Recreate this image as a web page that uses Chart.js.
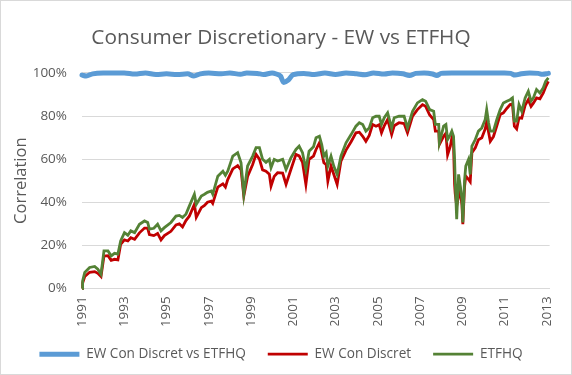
<!DOCTYPE html>
<html>
<head>
<meta charset="utf-8">
<script src="https://cdn.jsdelivr.net/npm/chart.js@4"></script>
<style>
  html, body { margin: 0; padding: 0; background: #fff; }
  #wrap { width: 572px; height: 375px; box-sizing: border-box; border: 1px solid #d9d9d9; }
  canvas { display: block; }
</style>
</head>
<body>
<div id="wrap"><canvas id="chart" width="570" height="373"></canvas></div>
<script>
const chartTitle = 'Consumer Discretionary - EW vs ETFHQ';
const seriesNames = ['EW Con Discret vs ETFHQ', 'EW Con Discret', 'ETFHQ'];

// x tick labels (years)
const xTicks = [1991, 1993, 1995, 1997, 1999, 2001, 2003, 2005, 2007, 2009, 2011, 2013];
const yTicks = [0, 20, 40, 60, 80, 100];

// price lines (percent)
const years = [
  1991.00, 1991.03, 1991.13, 1991.36, 1991.60, 1991.75, 1991.90, 1992.04, 1992.23, 1992.38,
  1992.54, 1992.70, 1992.83, 1993.01, 1993.17, 1993.31, 1993.49, 1993.72, 1993.96, 1994.11,
  1994.19, 1994.40, 1994.58, 1994.74, 1994.90, 1995.21, 1995.45, 1995.61, 1995.76, 1995.92,
  1996.08, 1996.32, 1996.41, 1996.65, 1996.80, 1996.94, 1997.12, 1997.19, 1997.43, 1997.67,
  1997.79, 1997.90, 1998.14, 1998.37, 1998.53, 1998.66, 1998.84, 1999.08, 1999.24, 1999.40,
  1999.55, 1999.71, 1999.87, 1999.95, 2000.10, 2000.26, 2000.50, 2000.66, 2000.89, 2001.13,
  2001.28, 2001.44, 2001.60, 2001.75, 2001.96, 2002.08, 2002.24, 2002.35, 2002.45, 2002.56,
  2002.64, 2002.79, 2002.92, 2003.08, 2003.26, 2003.50, 2003.74, 2003.97, 2004.13, 2004.29,
  2004.44, 2004.60, 2004.76, 2004.92, 2005.07, 2005.18, 2005.31, 2005.47, 2005.66, 2005.78,
  2006.01, 2006.25, 2006.41, 2006.65, 2006.88, 2007.12, 2007.27, 2007.46, 2007.65, 2007.73,
  2007.89, 2007.92, 2008.12, 2008.23, 2008.31, 2008.44, 2008.51, 2008.59, 2008.64, 2008.67,
  2008.74, 2008.83, 2008.91, 2008.99, 2009.03, 2009.11, 2009.17, 2009.30, 2009.38, 2009.46,
  2009.62, 2009.77, 2009.93, 2010.09, 2010.16, 2010.25, 2010.33, 2010.48, 2010.64, 2010.80,
  2010.95, 2011.11, 2011.27, 2011.38, 2011.47, 2011.58, 2011.69, 2011.82, 2011.98, 2012.13,
  2012.26, 2012.37, 2012.52, 2012.68, 2012.84, 2012.95, 2013.08
];
const etfhq = [
  0, 3.5, 7.4, 9.7, 10.2, 8.9, 6.6, 17.4, 17.4, 15.1,
  16.3, 15.9, 22.0, 25.9, 24.7, 26.7, 25.9, 29.8, 31.3, 30.6,
  27.5, 27.9, 29.8, 26.7, 28.2, 30.6, 33.6, 33.9, 32.9, 34.4,
  38.2, 43.7, 39.0, 42.9, 43.7, 44.6, 45.2, 43.7, 52.1, 54.4,
  52.5, 54.4, 61.4, 63.0, 58.3, 43.7, 56.8, 61.4, 65.3, 65.3,
  59.9, 58.5, 59.9, 56.0, 59.9, 59.1, 59.9, 55.2, 60.6, 64.5,
  66.0, 63.0, 55.2, 63.7, 65.7, 69.9, 70.6, 66.8, 61.4, 63.0,
  56.8, 61.4, 56.8, 52.9, 61.4, 67.6, 71.4, 75.3, 76.9, 76.1,
  73.0, 74.5, 79.2, 79.9, 79.9, 76.1, 79.2, 81.5, 74.5, 79.2,
  79.9, 79.9, 74.5, 82.2, 86.1, 87.6, 86.9, 83.0, 82.2, 76.1,
  76.1, 67.6, 75.3, 76.1, 69.1, 71.4, 73.0, 70.6, 59.9, 49.8,
  32.1, 52.9, 47.5, 41.3, 30.6, 49.8, 56.8, 59.9, 52.9, 66.0,
  69.1, 73.0, 74.5, 78.4, 83.0, 76.9, 73.0, 73.0, 78.4, 83.0,
  86.1, 86.9, 87.6, 88.4, 77.6, 77.6, 85.3, 82.2, 88.4, 91.5,
  86.9, 88.4, 92.3, 90.7, 93.1, 96.1, 97.7
];
const ewConDiscret = [
  0, 2.5, 5.5, 7.5, 7.8, 7.0, 5.5, 15.0, 15.2, 13.0,
  13.5, 13.2, 20.5, 22.5, 22.0, 23.5, 22.8, 25.8, 28.0, 28.0,
  25.0, 24.5, 25.5, 22.5, 24.5, 26.5, 29.5, 30.0, 28.5, 31.5,
  33.5, 39.0, 33.0, 37.5, 38.5, 40.0, 40.5, 39.5, 47.0, 48.5,
  47.0, 50.5, 55.5, 57.0, 55.0, 42.9, 52.0, 57.5, 62.2, 60.0,
  55.0, 54.4, 53.0, 47.5, 52.0, 53.7, 53.5, 48.3, 55.2, 62.2,
  61.5, 58.5, 48.3, 59.9, 61.4, 64.5, 67.6, 63.0, 58.3, 57.5,
  49.8, 56.8, 53.0, 48.3, 59.1, 64.2, 68.1, 72.2, 72.5, 70.6,
  68.3, 71.0, 76.1, 75.3, 76.0, 72.2, 75.5, 78.4, 71.4, 75.5,
  76.9, 76.5, 72.2, 80.0, 83.0, 85.3, 84.5, 80.5, 78.4, 73.0,
  73.0, 66.8, 70.6, 72.0, 62.0, 66.0, 69.9, 66.5, 48.3, 44.0,
  38.2, 42.9, 45.0, 38.5, 29.8, 47.0, 52.1, 50.6, 49.5, 63.0,
  65.3, 69.0, 69.9, 74.0, 77.5, 72.5, 68.3, 70.5, 75.5, 80.7,
  81.5, 83.5, 85.3, 85.5, 75.3, 74.0, 79.2, 79.0, 85.0, 87.6,
  84.5, 86.0, 88.4, 88.0, 90.7, 93.5, 96.1
];

// rolling correlation (percent)
const corrYears = [
  1991.00, 1991.20, 1991.50, 1992.00, 1993.00, 1993.50, 1994.00, 1994.50, 1995.00, 1995.50,
  1996.00, 1996.30, 1996.60, 1997.00, 1997.60, 1998.00, 1998.50, 1998.80, 1999.30, 1999.60,
  2000.00, 2000.20, 2000.40, 2000.55, 2000.75, 2001.00, 2001.50, 2002.00, 2002.50, 2003.00,
  2003.50, 2004.00, 2004.40, 2004.80, 2005.30, 2005.70, 2006.20, 2006.50, 2006.80, 2007.20,
  2007.60, 2007.80, 2008.00, 2008.50, 2009.00, 2010.00, 2011.00, 2011.30, 2011.50, 2011.80,
  2012.20, 2012.60, 2012.80, 2013.08
];
const corrValues = [
  99.0, 98.6, 99.6, 100, 100, 99.5, 100, 99.3, 99.6, 99.3,
  99.6, 98.6, 99.6, 100, 99.6, 100, 99.4, 100, 99.8, 99.3,
  100, 99.5, 98.5, 95.6, 96.6, 99.2, 99.8, 99.3, 100, 99.3,
  100, 99.6, 99.2, 100, 99.5, 100, 99.6, 98.8, 99.8, 100,
  99.5, 98.8, 99.8, 100, 100, 100, 100, 99.8, 99.0, 99.6,
  100, 99.8, 99.4, 99.8
];

const toPoints = (xs, ys) => xs.map((x, i) => ({ x: x, y: ys[i] }));

const fontFamily = '"Open Sans", "DejaVu Sans", sans-serif';
const textColor = '#595959';

new Chart(document.getElementById('chart'), {
  type: 'line',
  data: {
    datasets: [
      {
        label: seriesNames[0],
        data: toPoints(corrYears, corrValues),
        borderColor: '#5b9bd5',
        backgroundColor: '#5b9bd5',
        borderWidth: 5,
        borderCapStyle: 'round',
        borderJoinStyle: 'round',
        cubicInterpolationMode: 'monotone',
        pointRadius: 0,
        order: 2,
        clip: 10
      },
      {
        label: seriesNames[1],
        data: toPoints(years, ewConDiscret),
        borderColor: '#c00000',
        backgroundColor: '#c00000',
        borderWidth: 2.8,
        pointRadius: 0,
        order: 1,
        clip: 10
      },
      {
        label: seriesNames[2],
        data: toPoints(years, etfhq),
        borderColor: '#548235',
        backgroundColor: '#548235',
        borderWidth: 2.8,
        pointRadius: 0,
        order: 0,
        clip: 10
      }
    ]
  },
  options: {
    responsive: false,
    animation: false,
    layout: { padding: { left: 10, right: 20, top: 0, bottom: 3 } },
    plugins: {
      title: {
        display: true,
        text: chartTitle,
        color: textColor,
        font: { family: fontFamily, size: 20.8, weight: 'normal' },
        padding: { top: 25, bottom: 22 }
      },
      legend: {
        position: 'bottom',
        labels: {
          usePointStyle: true,
          pointStyle: 'line',
          pointStyleWidth: 40,
          padding: 22,
          color: textColor,
          font: { family: fontFamily, size: 13.6 },
          sort: (a, b) => a.datasetIndex - b.datasetIndex
        }
      },
      tooltip: { enabled: false }
    },
    scales: {
      x: {
        type: 'linear',
        min: 1991,
        max: 2013.14,
        afterBuildTicks: (scale) => { scale.ticks = xTicks.map(v => ({ value: v })); },
        afterFit: (scale) => { scale.height = 37; },
        grid: { display: false, drawTicks: false },
        border: { display: true, color: '#d9d9d9', width: 1 },
        ticks: {
          color: textColor,
          font: { family: fontFamily, size: 13.5 },
          padding: 8,
          minRotation: 90,
          maxRotation: 90,
          autoSkip: false,
          callback: (v) => String(v)
        }
      },
      y: {
        min: 0,
        max: 100,
        afterBuildTicks: (scale) => { scale.ticks = yTicks.map(v => ({ value: v })); },
        afterFit: (scale) => { scale.width = 71; },
        grid: { color: '#d9d9d9', lineWidth: 1, drawTicks: false },
        border: { display: false },
        ticks: {
          color: textColor,
          font: { family: fontFamily, size: 13.5 },
          padding: 15,
          callback: (v) => v + '%'
        },
        title: {
          display: true,
          text: 'Correlation',
          color: textColor,
          font: { family: fontFamily, size: 16.5 },
          padding: { top: 0, bottom: 0 }
        }
      }
    }
  }
});
</script>
</body>
</html>
